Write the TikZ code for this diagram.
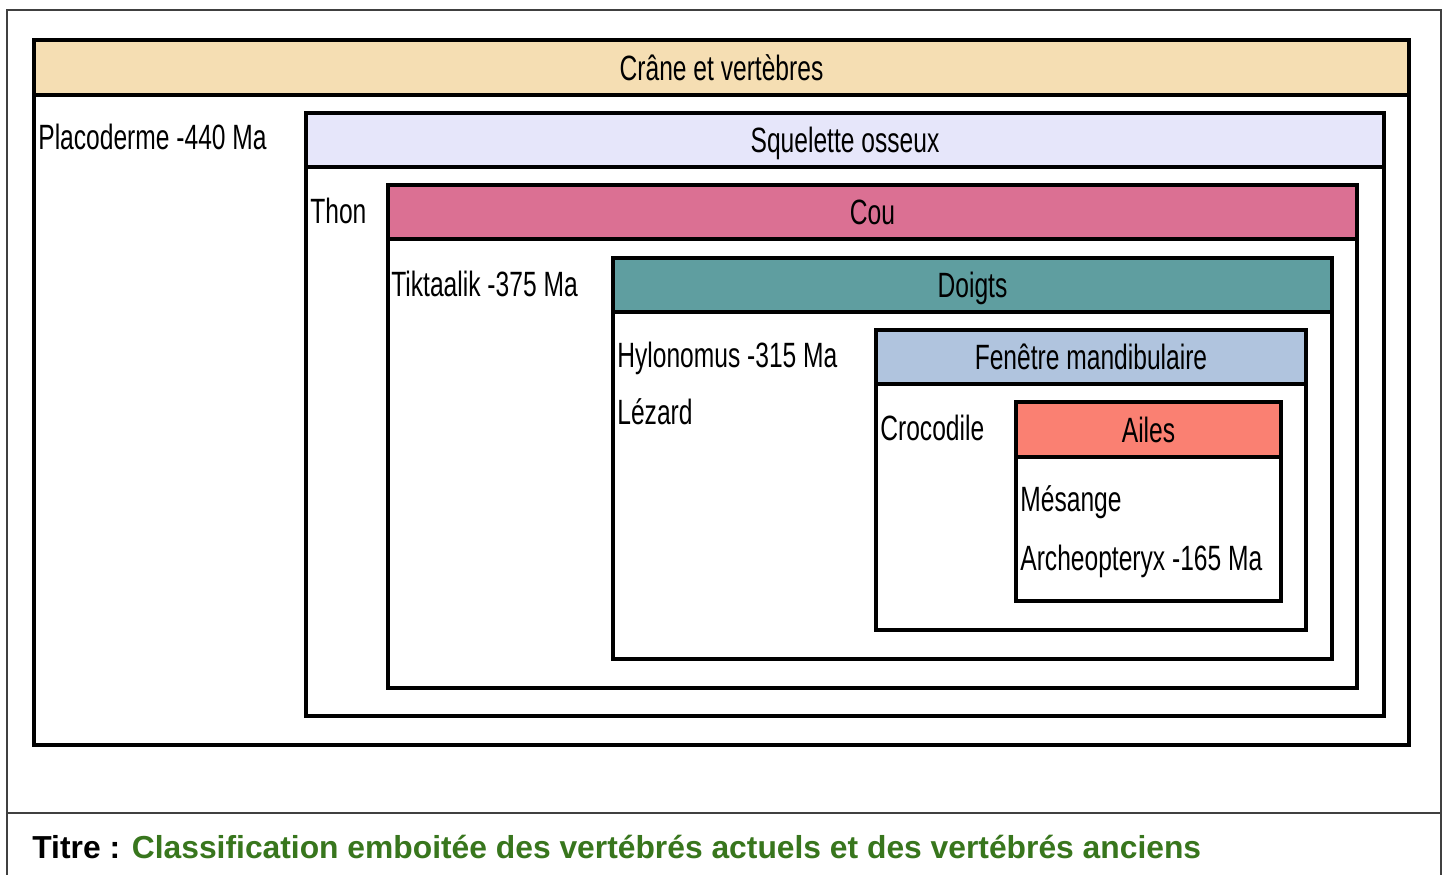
\documentclass[tikz,border=0pt]{standalone}
\usepackage{fontspec}
\setmainfont{Liberation Sans}
\newfontfamily\narrowfont[FakeStretch=0.7]{Liberation Sans}
\definecolor{Crane}{HTML}{F5DEB3}
\definecolor{Squelette}{HTML}{E6E6FA}
\definecolor{Cou}{HTML}{DB7093}
\definecolor{Doigts}{HTML}{5F9EA0}
\definecolor{Fenetre}{HTML}{B0C4DE}
\definecolor{Ailes}{HTML}{FA8072}
\definecolor{Titre}{HTML}{38761D}
\definecolor{Cadre}{HTML}{404040}

\tikzset{
  head/.style={shape=rectangle, draw, line width=1.8pt, inner sep=0pt, minimum height=1.08cm,
    text height=14.3pt, text depth=0pt, font=\narrowfont\fontsize{20}{24}\selectfont},
  body/.style={draw, line width=1.8pt},
  taxon/.style={anchor=base west, inner sep=0pt, font=\narrowfont\fontsize{20}{24}\selectfont},
}

\begin{document}
\begin{tikzpicture}[x=0.02cm, y=-0.02cm]
    \useasboundingbox[fill=white] (0,0) rectangle (1450,875);

    % cadre
    \coordinate (c1) at (7,875);
    \coordinate (c2) at (7,10);
    \coordinate (c3) at (1441,10);
    \coordinate (c4) at (1441,875);
    \coordinate (s1) at (7,813);
    \coordinate (s2) at (1441,813);
    \draw[Cadre, line width=1.2pt] (c1) -- (c2) -- (c3) -- (c4);
    \draw[Cadre, line width=1.2pt] (s1) -- (s2);

    % groupes emboites
    \draw[body] (34,40) rectangle (1409,745);
    \draw[body] (306,113) rectangle (1384,716);
    \draw[body] (388,185) rectangle (1357,688);
    \draw[body] (613,258) rectangle (1332,659);
    \draw[body] (876,330) rectangle (1306,630);
    \draw[body] (1016,402) rectangle (1281,601);

    \node at (721.5, 67.5) (crane) [head, fill=Crane, minimum width=27.5cm, minimum height=1.1cm] {Crâne et vertèbres};
    \node at (845, 140) (squelette) [head, fill=Squelette, minimum width=21.56cm] {Squelette osseux};
    \node at (872.5, 212) (cou) [head, fill=Cou, minimum width=19.38cm] {Cou};
    \node at (972.5, 285) (doigts) [head, fill=Doigts, minimum width=14.38cm] {Doigts};
    \node at (1091, 357) (fenetre) [head, fill=Fenetre, minimum width=8.6cm] {Fenêtre mandibulaire};
    \node at (1148.5, 429.5) (ailes) [head, fill=Ailes, minimum width=5.3cm, minimum height=1.1cm] {Ailes};

    % especes
    \node at (38, 150) (placoderme) [taxon] {Placoderme -440 Ma};
    \node at (310, 223) (thon) [taxon] {Thon};
    \node at (391, 296) (tiktaalik) [taxon] {Tiktaalik -375 Ma};
    \node at (617, 367) (hylonomus) [taxon] {Hylonomus -315 Ma};
    \node at (617, 424) (lezard) [taxon] {Lézard};
    \node at (880, 440) (crocodile) [taxon] {Crocodile};
    \node at (1020, 511) (mesange) [taxon] {Mésange};
    \node at (1020, 570) (archeopteryx) [taxon] {Archeopteryx -165 Ma};

    % titre
    \node at (32, 858) (titre) [anchor=base west, inner sep=0pt, font=\bfseries\fontsize{18.1}{22}\selectfont]
      {Titre : \textcolor{Titre}{Classification emboitée des vertébrés actuels et des vertébrés anciens}};
\end{tikzpicture}
\end{document}
